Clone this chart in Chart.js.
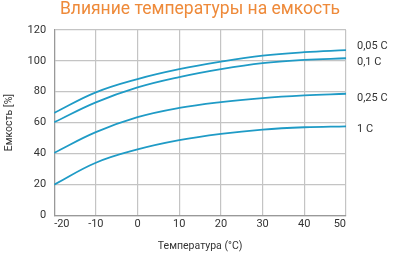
<!DOCTYPE html>
<html>
<head>
<meta charset="utf-8">
<script src="https://cdn.jsdelivr.net/npm/chart.js@4/dist/chart.umd.min.js"></script>
<style>
    body { margin: 0; background: #fff; }
    #wrap { width: 400px; height: 254px; }
</style>
</head>
<body>
<div id="wrap"><canvas id="capacityChart"></canvas></div>
<script>
const temperatures = [-20, -10, 0, 10, 20, 30, 40, 50];
const rate005 = [66.3, 79.6, 88.2, 94.6, 99.5, 103.4, 105.6, 106.9];
const rate01 = [60.2, 73.1, 82.8, 89.5, 94.6, 98.5, 100.6, 101.7];
const rate025 = [40.4, 53.8, 63.5, 69.5, 73.3, 75.9, 77.6, 78.7];
const rate1 = [19.8, 34, 42.6, 48.6, 52.7, 55.5, 57, 57.6];
const seriesNames = ['0,05 C', '0,1 C', '0,25 C', '1 C'];
const nameLevels = [109.2, 99, 75.5, 55.5];
const chartTitle = 'Влияние температуры на емкость';

const lineColor = '#1f9bc6';
const gridColor = '#c4c4c4';

function toPoints(values) {
    return values.map((v, i) => ({ x: temperatures[i], y: v }));
}

// title centred on the whole picture + names of the curves to the right
const extraText = {
    id: 'extraText',
    afterDatasetsDraw(chart) {
        const ctx = chart.ctx;
        const yScale = chart.scales.y;
        ctx.save();
        ctx.font = '17.5px Roboto';
        ctx.fillStyle = '#ee8a3a';
        ctx.textAlign = 'center';
        ctx.textBaseline = 'middle';
        ctx.fillText(chartTitle, chart.width / 2, 10);

        ctx.font = '11px Roboto';
        ctx.fillStyle = '#333';
        ctx.textAlign = 'left';
        seriesNames.forEach((name, i) => {
            ctx.fillText(name, chart.chartArea.right + 11, yScale.getPixelForValue(nameLevels[i]));
        });
        ctx.restore();
    }
};

const datasets = [rate005, rate01, rate025, rate1].map((values, i) => ({
    label: seriesNames[i],
    data: toPoints(values),
    borderColor: lineColor,
    borderWidth: 1.8,
    pointRadius: 0,
    tension: 0.4,
    fill: false
}));

new Chart(document.getElementById('capacityChart'), {
    type: 'line',
    data: { datasets: datasets },
    options: {
        responsive: true,
        maintainAspectRatio: false,
        animation: false,
        layout: { padding: { left: 3, right: 54, top: 30, bottom: 1 } },
        plugins: {
            legend: { display: false },
            tooltip: { enabled: false }
        },
        scales: {
            x: {
                type: 'linear',
                min: -20,
                max: 50,
                ticks: {
                    stepSize: 10,
                    align: 'inner',
                    color: '#333',
                    padding: 2,
                    font: { family: 'Roboto', size: 11 }
                },
                grid: { color: gridColor, lineWidth: 1.2, drawTicks: false },
                border: { color: '#999', width: 1.2 },
                title: {
                    display: true,
                    text: 'Температура (°C)',
                    color: '#333',
                    font: { family: 'Roboto', size: 10.5 },
                    padding: { top: 8, bottom: 0 }
                }
            },
            y: {
                min: 0,
                max: 120,
                ticks: {
                    stepSize: 20,
                    color: '#333',
                    padding: 8,
                    font: { family: 'Roboto', size: 11 }
                },
                grid: { color: gridColor, lineWidth: 1.2, drawTicks: false },
                border: { color: '#999', width: 1.2 },
                title: {
                    display: true,
                    text: 'Емкость [%]',
                    color: '#333',
                    font: { family: 'Roboto', size: 10.5 },
                    padding: { top: 0, bottom: 4 }
                }
            }
        }
    },
    plugins: [extraText]
});
</script>
</body>
</html>
